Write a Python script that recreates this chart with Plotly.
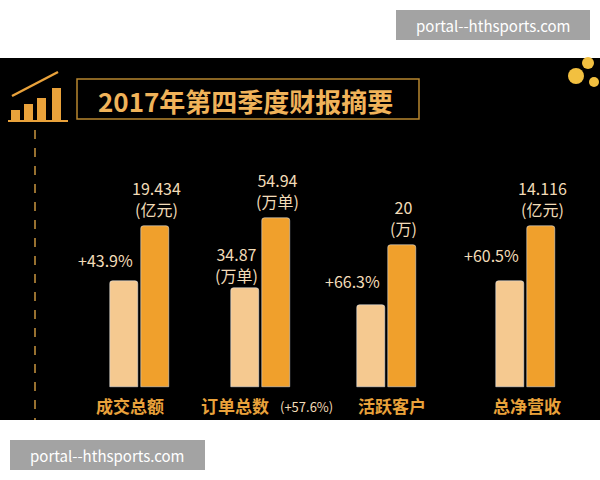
import plotly.graph_objects as go

# bar heights (same arbitrary scale as the drawing)
groups = ["成交总额", "订单总数", "活跃客户", "总净营收"]
group_x = [139, 260, 386, 525]
prev_vals = [106, 99, 82, 106]
curr_vals = [161, 169, 142, 161]
curr_labels = ["19.434<br>(亿元)", "54.94<br>(万单)", "20<br>(万)", "14.116<br>(亿元)"]
prev_labels = ["+43.9%", "34.87<br>(万单)", "+66.3%", "+60.5%"]

W, H = 600, 480
FONT = "Noto Sans CJK SC"
LIGHT = "#f5c990"
DARK = "#f0a02c"
TXT = "#f2dcb8"
GOLD = "#e9a23b"


def px(x):
    return x / W


def py(y):
    return 1 - y / H


fig = go.Figure()
fig.add_trace(go.Bar(x=[g - 15.5 for g in group_x], y=prev_vals, width=28,
                     marker=dict(color=LIGHT, cornerradius=3), showlegend=False))
fig.add_trace(go.Bar(x=[g + 15.5 for g in group_x], y=curr_vals, width=28,
                     marker=dict(color=DARK, cornerradius=3), showlegend=False))

shapes = [
    dict(type="rect", xref="paper", yref="paper", x0=0, x1=1, y0=py(420), y1=py(58),
         fillcolor="black", line_width=0, layer="below"),
    dict(type="rect", xref="paper", yref="paper", x0=px(77), x1=px(419), y0=py(119), y1=py(79),
         line=dict(color="#b8862f", width=1.5)),
    dict(type="line", xref="paper", yref="paper", x0=px(35), x1=px(35), y0=py(130), y1=py(420),
         line=dict(color="#c9953f", width=1.5, dash="dash")),
    dict(type="line", xref="paper", yref="paper", x0=px(8), x1=px(68), y0=py(121), y1=py(121),
         line=dict(color=GOLD, width=2)),
    dict(type="line", xref="paper", yref="paper", x0=px(12), x1=px(58), y0=py(96), y1=py(72),
         line=dict(color=GOLD, width=2.5)),
]
for i, (x0, top) in enumerate([(11, 110), (24, 104), (37, 98), (52, 88)]):
    shapes.append(dict(type="rect", xref="paper", yref="paper", x0=px(x0), x1=px(x0 + 9),
                       y0=py(120), y1=py(top), fillcolor=GOLD, line_width=0))
for cx, cy, r in [(576, 76, 8), (588, 63, 6), (594, 82, 5)]:
    shapes.append(dict(type="circle", xref="paper", yref="paper", x0=px(cx - r), x1=px(cx + r),
                       y0=py(cy + r), y1=py(cy - r), fillcolor="#f2c040", line_width=0))
shapes += [
    dict(type="rect", xref="paper", yref="paper", x0=px(396), x1=px(590), y0=py(40), y1=py(10),
         fillcolor="#a3a3a3", line_width=0),
    dict(type="rect", xref="paper", yref="paper", x0=px(10), x1=px(205), y0=py(470), y1=py(440),
         fillcolor="#a3a3a3", line_width=0),
]

ann = []


def note(text, x, y, size=16, color=TXT, xanchor="center", yanchor="middle"):
    ann.append(dict(text=text, x=px(x), y=py(y), xref="paper", yref="paper", showarrow=False,
                    font=dict(size=size, color=color, family=FONT), xanchor=xanchor, yanchor=yanchor))


note("<b>2017年第四季度财报摘要</b>", 245, 100, size=26, color="#f0b35a")
for g, lab, v in zip(group_x, curr_labels, curr_vals):
    note(lab, g + 17, 387 - v - 3, yanchor="bottom")
note(prev_labels[0], 105, 260)
note(prev_labels[1], 236, 264)
note(prev_labels[2], 352, 281)
note(prev_labels[3], 492, 255)
note("<b>成交总额</b>", 130, 405, size=17, color=GOLD)
note("<b>订单总数</b>", 235, 405, size=17, color=GOLD)
note("(+57.6%)", 306, 406, size=13, color=TXT)
note("<b>活跃客户</b>", 392, 405, size=17, color=GOLD)
note("<b>总净营收</b>", 527, 405, size=17, color=GOLD)
note("portal--hthsports.com", 493, 25, size=15, color="white")
note("portal--hthsports.com", 107, 455, size=15, color="white")

fig.update_layout(
    width=W, height=H,
    margin=dict(l=0, r=0, t=0, b=0),
    paper_bgcolor="white", plot_bgcolor="rgba(0,0,0,0)",
    xaxis=dict(range=[0, W], visible=False, fixedrange=True),
    yaxis=dict(range=[387 - H, 387], visible=False, fixedrange=True),
    shapes=shapes, annotations=ann, bargap=0,
)
fig.write_html("out.html", config={"displayModeBar": False},
               post_script="document.body.style.margin='0';document.body.style.overflow='hidden';")
